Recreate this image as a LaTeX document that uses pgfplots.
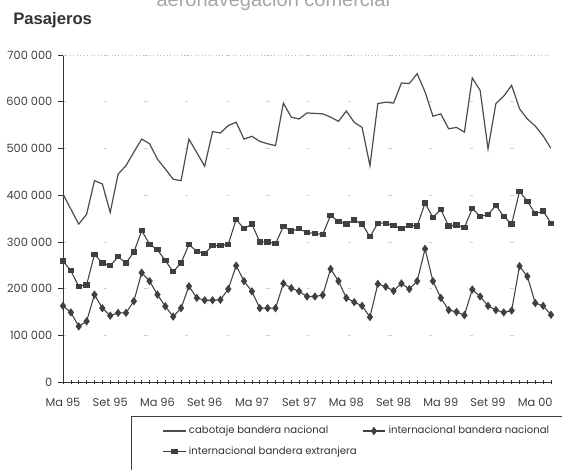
\documentclass[border=0pt]{standalone}
\usepackage{fontspec}
\setmainfont{Poppins}
\newfontfamily\arialfont{Liberation Sans}
\usepackage{pgfplots}
\usepackage{pgfplotstable}
\pgfplotsset{compat=1.18}

% month index (0 = Ma 95), passengers
\pgfplotstableread{
i cab ibn ibe
0 402000 163000 259000
1 370000 149000 238000
2 338000 119000 205000
3 359000 130000 208000
4 431000 187000 273000
5 424000 158000 255000
6 363000 142000 249000
7 445000 148000 268000
8 463000 148000 255000
9 492000 173000 278000
10 520000 234000 324000
11 510000 216000 295000
12 477000 187000 283000
13 456000 162000 260000
14 434000 140000 236000
15 431000 158000 255000
16 520000 205000 294000
17 491000 180000 280000
18 462000 175000 275000
19 536000 175000 292000
20 533000 176000 292000
21 549000 199000 295000
22 556000 249000 348000
23 520000 216000 328000
24 526000 194000 338000
25 515000 158000 300000
26 510000 158000 300000
27 506000 158000 296000
28 597000 211000 333000
29 567000 201000 323000
30 563000 194000 328000
31 576000 183000 320000
32 575000 183000 318000
33 574000 186000 316000
34 567000 242000 357000
35 558000 216000 343000
36 580000 180000 338000
37 556000 171000 347000
38 545000 163000 338000
39 463000 139000 311000
40 596000 210000 340000
41 599000 204000 340000
42 597000 195000 335000
43 640000 211000 328000
44 639000 199000 335000
45 660000 216000 334000
46 621000 285000 383000
47 569000 216000 352000
48 574000 180000 369000
49 542000 154000 334000
50 545000 150000 336000
51 535000 143000 331000
52 651000 198000 371000
53 624000 183000 355000
54 499000 163000 358000
55 596000 154000 378000
56 612000 149000 354000
57 635000 153000 338000
58 585000 248000 408000
59 563000 226000 387000
60 548000 169000 360000
61 527000 163000 366000
62 500000 144000 340000
}\datos

\begin{document}
\begin{tikzpicture}
\path[use as bounding box] (-47.25pt,-65.25pt) rectangle (374.25pt,286.5pt);
\begin{axis}[
    width=366pt, height=245.25pt, scale only axis,
    xmin=0, xmax=62, ymin=0, ymax=700000,
    axis x line*=bottom, axis y line*=left,
    axis line style={black!80, line width=0.6pt},
    xtick={0,6,...,60},
    xticklabels={Ma 95,Set 95,Ma 96,Set 96,Ma 97,Set 97,Ma 98,Set 98,Ma 99,Set 99,Ma 00},
    minor xtick={0,...,62},
    xtick align=center, ytick align=outside,
    major tick length=3.5pt, minor tick length=3.5pt,
    tick style={black!80, line width=0.5pt},
    ytick={0,100000,...,700000},
    yticklabels={0,100 000,200 000,300 000,400 000,500 000,600 000,700 000},
    scaled y ticks=false,
    ymajorgrids,
    major grid style={gray!35, dash pattern=on 2.5pt off 28pt},
    tick label style={font=\fontsize{8.5}{10}\selectfont, text=black!75},
    xticklabel style={yshift=-7pt},
    yticklabel style={xshift=-1pt},
    legend columns=2,
    legend style={at={(axis description cs:0.203,-0.126)}, anchor=north west,
        draw=none, fill=none, inner sep=0pt,
        font=\fontsize{7.6}{9}\selectfont, text=black!80,
        row sep=4pt, /tikz/every even column/.append style={column sep=2pt}},
    legend cell align=left,
]
\draw[gray!55, dotted, line width=0.6pt] (rel axis cs:0,1) -- (rel axis cs:1,1);
\draw[gray!40] (rel axis cs:1,0) -- (rel axis cs:1,1);
\addplot[black!70, line width=0.9pt, mark=none] table[x=i, y=cab] {\datos};
\addlegendentry{cabotaje bandera nacional}
\addplot[black!75, line width=0.8pt, mark=diamond*, mark size=2.5pt,
    mark options={fill=black!75}] table[x=i, y=ibn] {\datos};
\addlegendentry{internacional bandera nacional}
\addplot[black!75, line width=0.8pt, mark=square*, mark size=2pt,
    mark options={fill=black!75, yscale=0.8}] table[x=i, y=ibe] {\datos};
\addlegendentry{internacional bandera extranjera}
\end{axis}
\draw[black!75, line width=0.9pt] (51.5pt,-70pt) -- (51.5pt,-26pt) -- (380pt,-26pt);
\node[anchor=west, inner sep=0pt, font=\arialfont\bfseries\fontsize{12.5}{14}\selectfont, text=black!80]
    at (-37.5pt,271.5pt) {Pasajeros};
\node[anchor=base west, inner sep=0pt, font=\arialfont\fontsize{15}{17}\selectfont, text=black!35]
    at (70pt,281.5pt) {aeronavegación comercial};
\end{tikzpicture}
\end{document}
